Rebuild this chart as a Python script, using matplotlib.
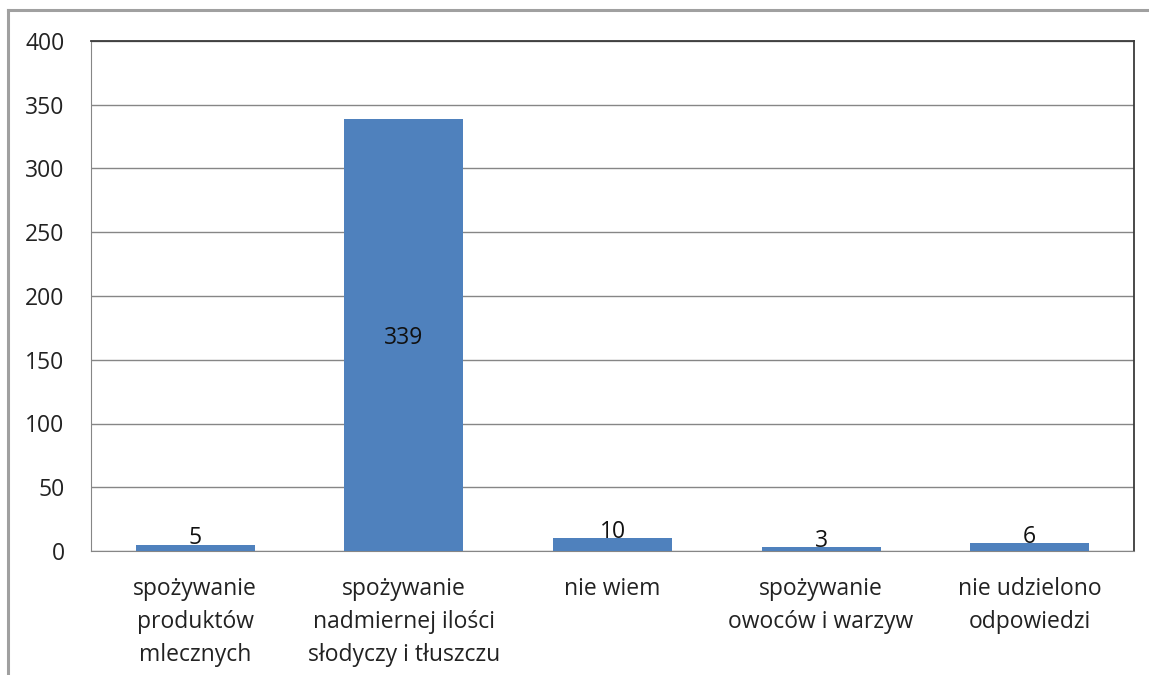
import matplotlib.pyplot as plt
from matplotlib.lines import Line2D

categories = [
    "spożywanie\nproduktów\nmlecznych",
    "spożywanie\nnadmiernej ilości\nsłodyczy i tłuszczu",
    "nie wiem",
    "spożywanie\nowoców i warzyw",
    "nie udzielono\nodpowiedzi",
]
counts = [5, 339, 10, 3, 6]
yticks = [0, 50, 100, 150, 200, 250, 300, 350, 400]

plt.rcParams["font.family"] = ["Open Sans", "DejaVu Sans"]
FS = 16.5

W, H = 1149, 675
fig = plt.figure(figsize=(W / 100, H / 100), dpi=100)
ax = fig.add_axes([91 / W, 1 - 551 / H, (1134 - 91) / W, (551 - 41) / H])

bar_color = "#4F81BD"
bars = ax.bar(range(len(counts)), counts, width=0.57, color=bar_color, zorder=3)

ax.set_xlim(-0.5, len(counts) - 0.5)
ax.set_ylim(0, 400)
ax.set_yticks(yticks)
ax.set_yticklabels([str(t) for t in yticks], fontsize=FS, color="#222222")
ax.set_xticks(range(len(counts)))
ax.set_xticklabels(categories, fontsize=FS, color="#222222", linespacing=1.5)
ax.tick_params(axis="both", length=0)
ax.tick_params(axis="y", pad=19)
ax.tick_params(axis="x", pad=19)
ax.yaxis.grid(True, color="#868686", linewidth=1, zorder=0)

for side in ("left", "bottom"):
    ax.spines[side].set_color("#868686")
for side in ("top", "right"):
    ax.spines[side].set_color("#3a3a3a")
    ax.spines[side].set_linewidth(1.3)

# value labels: big bar in the middle, small ones sitting on top
for rect, v in zip(bars, counts):
    x = rect.get_x() + rect.get_width() / 2
    if v > 50:
        ax.annotate(str(v), (x, v / 2), xytext=(0, -2), textcoords="offset points",
                    ha="center", va="center", fontsize=FS, color="#111111", zorder=4)
    else:
        ax.annotate(str(v), (x, v), xytext=(0, -4), textcoords="offset points",
                    ha="center", va="bottom", fontsize=FS, color="#111111", zorder=4)

# outer chart frame (left and top edges)
frame_kw = dict(color="#a0a0a0", linewidth=2.2, transform=fig.transFigure)
fig.add_artist(Line2D([8 / W, 8 / W], [0, 1 - 10 / H], **frame_kw))
fig.add_artist(Line2D([8 / W, 1], [1 - 10 / H, 1 - 10 / H], **frame_kw))

fig.savefig("out.png", dpi=100, facecolor="white")
